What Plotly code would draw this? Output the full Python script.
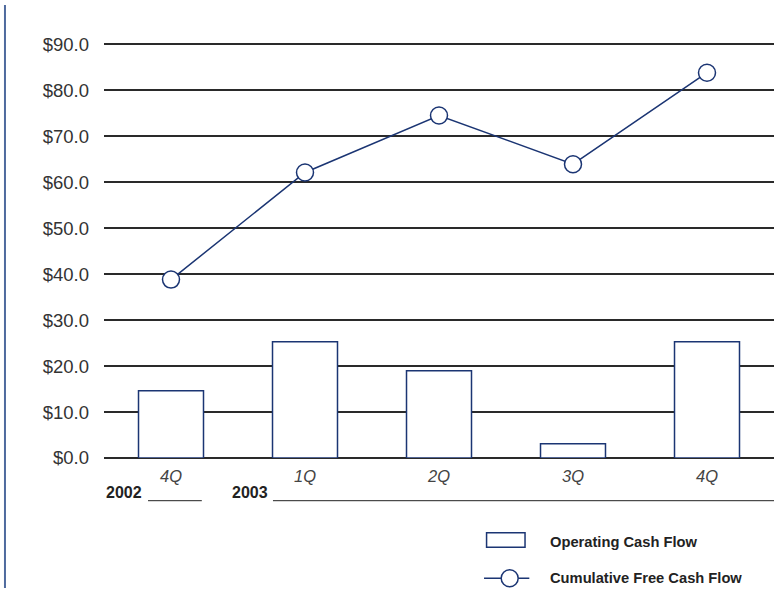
import plotly.graph_objects as go

# quarters (4Q 2002 .. 4Q 2003)
quarters = ["4Q", "1Q", "2Q", "3Q", "4Q"]
operating_cf = [14.6, 25.3, 19.0, 3.1, 25.3]
cumulative_fcf = [38.8, 62.1, 74.5, 63.9, 83.8]
y_ticks = [0, 10, 20, 30, 40, 50, 60, 70, 80, 90]
y_labels = ["$%.1f" % v for v in y_ticks]

NAVY = "#1b3573"
BOLD_FONT = "Liberation Sans, Arial, sans-serif"
x_pos = list(range(len(quarters)))

fig = go.Figure()
fig.add_trace(go.Bar(
    x=x_pos, y=operating_cf, width=0.485, name="Operating Cash Flow",
    marker=dict(color="white", line=dict(color=NAVY, width=1.5)),
))
fig.add_trace(go.Scatter(
    x=x_pos, y=cumulative_fcf, mode="lines+markers", name="Cumulative Free Cash Flow",
    line=dict(color=NAVY, width=1.5),
    marker=dict(size=17, color="white", line=dict(color=NAVY, width=1.5)),
))

# plot area is 423px tall for a 0..92 range; paper y helper for pixel rows below it
PLOT_BOTTOM, PLOT_H = 592 - 134, 423
def py(row):
    return (PLOT_BOTTOM - row) / PLOT_H

# year labels + hand-drawn legend
annotations = [
    dict(text="<b>2002</b>", x=0.0597, y=py(492.7), xanchor="right", size=16),
    dict(text="<b>2003</b>", x=0.2478, y=py(492.7), xanchor="right", size=16),
    dict(text="<b>Operating Cash Flow</b>", x=0.6627, y=py(541.7), xanchor="left", size=14.7),
    dict(text="<b>Cumulative Free Cash Flow</b>", x=0.6627, y=py(578.3), xanchor="left", size=14.7),
]
for a in annotations:
    sz = a.pop("size")
    a.update(xref="paper", yref="paper", yanchor="middle", showarrow=False,
             font=dict(family=BOLD_FONT, size=sz, color="#222222"))

shapes = [
    # left blue rule
    dict(type="line", xref="paper", yref="paper", x0=-0.1478, x1=-0.1478, y0=py(5), y1=py(588),
         line=dict(color="#4f6a9e", width=2)),
    # year underlines
    dict(type="line", xref="paper", yref="paper", x0=0.0657, x1=0.146, y0=py(500.7), y1=py(500.7),
         line=dict(color="#222222", width=1)),
    dict(type="line", xref="paper", yref="paper", x0=0.2522, x1=1.0, y0=py(500.7), y1=py(500.7),
         line=dict(color="#222222", width=1)),
    # legend: bar swatch
    dict(type="rect", xref="paper", yref="paper", x0=0.571, x1=0.6284, y0=py(532.7), y1=py(547.3),
         line=dict(color=NAVY, width=1.5), fillcolor="white"),
    # legend: line + circle
    dict(type="line", xref="paper", yref="paper", x0=0.5672, x1=0.6348, y0=py(578.3), y1=py(578.3),
         line=dict(color=NAVY, width=1.5)),
    dict(type="circle", xref="paper", yref="paper", xsizemode="pixel", ysizemode="pixel",
         xanchor=0.6055, yanchor=py(578.3), x0=-8.5, x1=8.5, y0=-8.5, y1=8.5,
         line=dict(color=NAVY, width=1.5), fillcolor="white"),
]

fig.update_layout(
    width=777, height=592,
    margin=dict(l=104, r=3, t=35, b=134),
    paper_bgcolor="white", plot_bgcolor="white",
    showlegend=False,
    font=dict(family="Liberation Sans, Arial, sans-serif", color="#333333"),
    xaxis=dict(
        range=[-0.5, 4.5], tickmode="array", tickvals=x_pos, ticktext=quarters,
        showgrid=False, zeroline=False, showline=False,
        tickfont=dict(size=16.5, color="#444444", style="italic"),
        ticks="outside", ticklen=3, tickcolor="white",
    ),
    yaxis=dict(
        range=[0, 92], tickmode="array", tickvals=y_ticks, ticktext=y_labels,
        showgrid=True, gridcolor="#2a2a2a", gridwidth=1.5,
        zeroline=True, zerolinecolor="#2a2a2a", zerolinewidth=1.5,
        showline=False, tickfont=dict(size=18.5, color="#333333"),
        ticklabelstandoff=14,
    ),
    annotations=annotations,
    shapes=shapes,
)

# drop the page's default body margin so the figure sits at the window origin
fig.write_html("out.html", config={"displayModeBar": False},
               post_script="document.body.style.margin='0';")
